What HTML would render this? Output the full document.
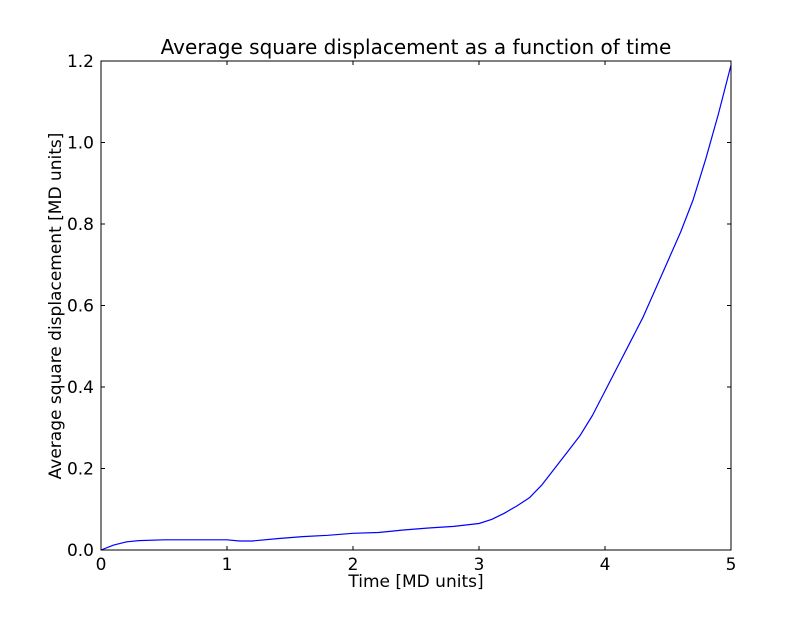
<!DOCTYPE html>
<html><head><meta charset="utf-8"><style>
body{margin:0;background:#fff}
svg text{font-family:"DejaVu Sans","Liberation Sans",sans-serif;}
</style></head><body>
<svg id="chart" width="812" height="612" xmlns="http://www.w3.org/2000/svg">
<rect width="812" height="612" fill="#fff"/>
<text x="416" y="54" font-size="20" text-anchor="middle">Average square displacement as a function of time</text>
<text x="416" y="587" font-size="17" text-anchor="middle">Time [MD units]</text>
<text transform="translate(61,306) rotate(-90)" font-size="17" text-anchor="middle">Average square displacement [MD units]</text>
<g id="ticks"></g>
<path id="line" fill="none" stroke="#0000ff" stroke-width="1.2" stroke-linejoin="round"/>
<rect x="101" y="61" width="630" height="489" fill="none" stroke="#000" stroke-width="1"/>
</svg>
<script>
const times=[0,0.1,0.2,0.3,0.5,0.8,1.0,1.1,1.2,1.4,1.6,1.8,2.0,2.2,2.4,2.6,2.8,3.0,3.1,3.2,3.3,3.4,3.5,3.6,3.7,3.8,3.9,4.0,4.1,4.2,4.3,4.4,4.5,4.6,4.7,4.8,4.9,5.0];
const displacement=[0,0.012,0.02,0.023,0.025,0.025,0.025,0.022,0.022,0.028,0.033,0.036,0.041,0.043,0.049,0.054,0.058,0.065,0.075,0.09,0.108,0.128,0.16,0.2,0.24,0.28,0.33,0.39,0.45,0.51,0.57,0.64,0.71,0.78,0.86,0.96,1.07,1.19];
const xTicks=[0,1,2,3,4,5];
const xTickLabels=["0","1","2","3","4","5"];
const yTicks=[0,0.2,0.4,0.6,0.8,1.0,1.2];
const yTickLabels=["0.0","0.2","0.4","0.6","0.8","1.0","1.2"];
const X0=101,X1=731,Y0=550,Y1=61;
const xs=v=>X0+(v-0)/(5-0)*(X1-X0);
const ys=v=>Y0-(v-0)/(1.2-0)*(Y0-Y1);
const NS="http://www.w3.org/2000/svg";
const g=document.getElementById('ticks');
function mk(tag,attrs){const e=document.createElementNS(NS,tag);for(const k in attrs)e.setAttribute(k,attrs[k]);return e;}
xTicks.forEach((v,i)=>{
  const x=xs(v);
  const t1=mk('line',{x1:x,x2:x,y1:Y0,y2:Y0-4,stroke:'#000'});
  
  
  g.appendChild(t1);
  const t2=mk('line',{x1:x,x2:x,y1:Y1,y2:Y1+4,stroke:'#000'});
  
  
  g.appendChild(t2);
  const tx=mk('text',{x:x,y:Y0+20,'font-size':17,'text-anchor':'middle'});
  tx.textContent=xTickLabels[i];
  
  
  g.appendChild(tx);
});
yTicks.forEach((v,i)=>{
  const y=ys(v);
  const t1=mk('line',{x1:X0,x2:X0+4,y1:y,y2:y,stroke:'#000'});
  
  
  g.appendChild(t1);
  const t2=mk('line',{x1:X1,x2:X1-4,y1:y,y2:y,stroke:'#000'});
  
  
  g.appendChild(t2);
  const tx=mk('text',{x:X0-7,y:y+6,'font-size':17,'text-anchor':'end'});
  tx.textContent=yTickLabels[i];
  
  
  g.appendChild(tx);
});
let d='';
times.forEach((t,i)=>{d+=(i?'L':'M')+xs(t).toFixed(1)+','+ys(displacement[i]).toFixed(1);});
document.getElementById('line').setAttribute('d',d);
</script>
</body></html>
